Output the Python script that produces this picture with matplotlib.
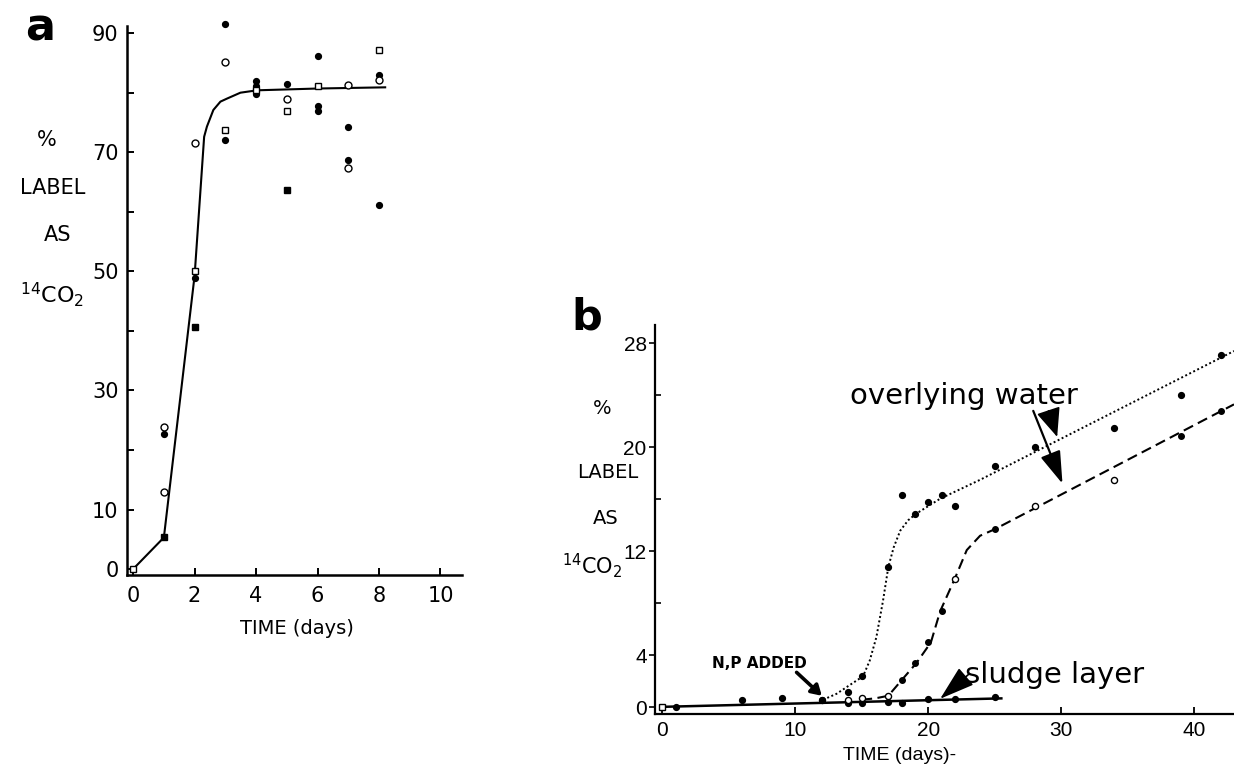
import matplotlib
matplotlib.use("Agg")
import matplotlib.pyplot as plt
from matplotlib.ticker import FixedLocator, FixedFormatter

# ---------------- data : panel a ----------------
a_curve_x = [0, 1, 2, 2.31, 2.40, 2.61, 2.84, 3.05, 3.49, 4.03, 6, 8.2]
a_curve_y = [0, 5.3, 49.3, 72.6, 74.3, 77.1, 78.5, 79.0, 80.0, 80.4, 80.7, 80.9]

a_fill_circ_x = [1, 2, 3, 3, 4, 4, 4, 5, 6, 6, 6, 7, 7, 8, 8]
a_fill_circ_y = [22.7, 48.9, 91.6, 72.0, 82.0, 81.2, 79.8, 81.5, 86.2, 77.7, 77.0, 74.3, 68.7, 82.9, 61.1]
a_fill_sq_x = [1, 2, 5]
a_fill_sq_y = [5.3, 40.6, 63.6]
a_open_circ_x = [1, 1, 2, 3, 5, 7, 7, 8]
a_open_circ_y = [23.8, 13.0, 71.5, 85.2, 79.0, 81.3, 67.3, 82.1]
a_open_sq_x = [0, 2, 3, 4, 5, 6, 8]
a_open_sq_y = [0.0, 50.0, 73.8, 80.5, 76.9, 81.1, 87.1]

a_xticks = [0, 2, 4, 6, 8, 10]
a_yticks = [0, 10, 20, 30, 40, 50, 60, 70, 80, 90]
a_ytick_labels = ["0", "10", "", "30", "", "50", "", "70", "", "90"]

# ---------------- data : panel b ----------------
# overlying water, replicate 1 (dotted)
ow1_x = [12, 14, 15, 17, 18, 19, 20, 21, 22, 25, 28, 34, 39, 42]
ow1_y = [0.6, 1.2, 2.4, 10.8, 16.3, 14.9, 15.8, 16.3, 15.5, 18.6, 20.0, 21.5, 24.0, 27.1]
ow1_curve_x = [12.1, 13.1, 15.1, 15.6, 16.1, 16.6, 17.0, 17.4, 17.9, 18.5, 19.1, 20.9, 23.9, 43.0]
ow1_curve_y = [0.6, 1.05, 2.4, 3.6, 5.4, 8.2, 10.8, 12.3, 13.6, 14.4, 14.9, 16.05, 17.5, 27.4]

# overlying water, replicate 2 (dashed)
ow2_fill_x = [18, 19, 20, 21, 25, 39, 42]
ow2_fill_y = [2.1, 3.4, 5.0, 7.4, 13.7, 20.9, 22.8]
ow2_open_x = [14, 15, 17, 22, 28, 34]
ow2_open_y = [0.6, 0.7, 0.9, 9.9, 15.5, 17.5]
ow2_curve_x = [15.0, 16.0, 17.0, 18.0, 19.1, 20.2, 20.9, 22.0, 22.9, 23.9, 25.0, 43.0]
ow2_curve_y = [0.6, 0.7, 0.9, 2.1, 3.4, 5.0, 7.4, 9.9, 12.1, 13.2, 13.7, 23.3]

# sludge layer (solid)
sl_x = [1, 6, 9, 12, 14, 15, 17, 18, 20, 22, 25]
sl_y = [0.05, 0.55, 0.7, 0.6, 0.35, 0.35, 0.45, 0.35, 0.65, 0.65, 0.8]
sl_open_x = [0]
sl_open_y = [0.0]
sl_line_x = [0, 25.5]
sl_line_y = [0.05, 0.7]

b_xticks = [0, 10, 20, 30, 40]
b_yticks_major = [0, 4, 12, 20, 28]
b_yticks_minor = [8, 16, 24]

W, H = 1234, 768
fig = plt.figure(figsize=(W / 100, H / 100), dpi=100)
NARROW = ['Liberation Sans', 'DejaVu Sans']


def fx(px):
    return px / W


def fy(py):
    return 1 - py / H


# ================= panel a =================
axA = fig.add_axes([fx(127), fy(575), 335 / W, 549 / H])
axA.set_xlim(-0.2, 10.7)
axA.set_ylim(-1.0, 91.2)
for s in ("top", "right"):
    axA.spines[s].set_visible(False)
for s in ("left", "bottom"):
    axA.spines[s].set_linewidth(1.8)

axA.plot(a_curve_x, a_curve_y, color="black", lw=1.5, zorder=2, solid_joinstyle="round")
axA.plot(a_fill_circ_x, a_fill_circ_y, "o", ms=4.2, color="black", zorder=3, clip_on=False)
axA.plot(a_fill_sq_x, a_fill_sq_y, "s", ms=4.0, color="black", zorder=3, clip_on=False)
axA.plot(a_open_circ_x, a_open_circ_y, "o", ms=5, mfc="white", mec="black", mew=1.0, zorder=3, clip_on=False)
axA.plot(a_open_sq_x, a_open_sq_y, "s", ms=4.6, mfc="white", mec="black", mew=1.0, zorder=3, clip_on=False)

axA.xaxis.set_major_locator(FixedLocator(a_xticks))
axA.yaxis.set_major_locator(FixedLocator(a_yticks))
axA.yaxis.set_major_formatter(FixedFormatter(a_ytick_labels))
axA.tick_params(axis="both", direction="in", length=5, width=1.4, labelsize=15, pad=6)
axA.tick_params(axis="x", pad=8)

fig.text(fx(40), fy(28), "a", fontsize=32, fontweight="bold", ha="center", va="center")
fig.text(fx(47), fy(140), "%", fontsize=15, ha="center", va="center")
fig.text(fx(53), fy(188), "LABEL", fontsize=15, ha="center", va="center")
fig.text(fx(58), fy(235), "AS", fontsize=15, ha="center", va="center")
fig.text(fx(52), fy(295), r"$^{14}$CO$_2$", fontsize=16, ha="center", va="center")
fig.text(fx(297), fy(628), "TIME (days)", fontsize=14, ha="center", va="center")

# ================= panel b =================
axB = fig.add_axes([fx(655), fy(714), 579 / W, 389 / H])
axB.set_xlim(-0.55, 43.0)
axB.set_ylim(-0.5, 29.4)
for s in ("top", "right"):
    axB.spines[s].set_visible(False)
for s in ("left", "bottom"):
    axB.spines[s].set_linewidth(1.6)

axB.plot(sl_line_x, sl_line_y, color="black", lw=1.8, zorder=2)
axB.plot(sl_x, sl_y, "o", ms=4.2, color="black", zorder=3)
axB.plot(sl_open_x, sl_open_y, "s", ms=4.6, mfc="white", mec="black", mew=1.0, zorder=3, clip_on=False)

axB.plot(ow1_curve_x, ow1_curve_y, color="black", lw=1.4, linestyle=(0, (1, 1.3)), zorder=2, clip_on=False)
axB.plot(ow1_x, ow1_y, "o", ms=4.2, color="black", zorder=3)

axB.plot(ow2_curve_x, ow2_curve_y, color="black", lw=1.5, linestyle=(0, (5, 2.6)), zorder=2, clip_on=False)
axB.plot(ow2_fill_x, ow2_fill_y, "o", ms=4.0, color="black", zorder=3)
axB.plot(ow2_open_x, ow2_open_y, "o", ms=4.4, mfc="white", mec="black", mew=1.0, zorder=3)

axB.xaxis.set_major_locator(FixedLocator(b_xticks))
axB.yaxis.set_major_locator(FixedLocator(b_yticks_major))
axB.yaxis.set_minor_locator(FixedLocator(b_yticks_minor))
axB.tick_params(axis="x", direction="in", length=5, width=1.3, labelsize=15, pad=5)
axB.tick_params(axis="y", which="major", direction="out", length=4, width=1.2, labelsize=15, pad=2)
axB.tick_params(axis="y", which="minor", direction="in", length=4, width=1.2)
for lab in axB.get_xticklabels() + axB.get_yticklabels():
    lab.set_family(NARROW)

# annotations
axB.text(3.76, 3.0, "N,P ADDED", fontsize=11, fontweight="bold", ha="left", va="baseline")
axB.annotate("", xy=(12.0, 0.9), xytext=(10.1, 2.7),
             arrowprops=dict(arrowstyle="-|>,head_length=0.5,head_width=0.3", mutation_scale=12,
                             lw=2.6, color="black", shrinkA=0, shrinkB=0))

axB.text(22.7, 23.3, "overlying water", fontsize=21, ha="center", va="baseline")
axB.annotate("", xy=(29.7, 20.8), xytext=(29.05, 22.8),
             arrowprops=dict(arrowstyle="-|>,head_length=0.9,head_width=0.38", mutation_scale=20,
                             lw=1.2, color="black", shrinkA=0, shrinkB=0))
axB.annotate("", xy=(30.1, 17.2), xytext=(27.9, 22.8),
             arrowprops=dict(arrowstyle="-|>,head_length=1.0,head_width=0.32", mutation_scale=20,
                             lw=1.6, color="black", shrinkA=0, shrinkB=0))

axB.text(22.8, 1.87, "sludge layer", fontsize=21, ha="left", va="baseline")
axB.annotate("", xy=(20.9, 0.67), xytext=(23.1, 2.6),
             arrowprops=dict(arrowstyle="-|>,head_length=1.1,head_width=0.35", mutation_scale=20,
                             lw=1.2, color="black", shrinkA=0, shrinkB=0))

fig.text(fx(587), fy(318), "b", fontsize=31, fontweight="bold", ha="center", va="center")
fig.text(fx(602), fy(408), "%", fontsize=14, ha="center", va="center")
fig.text(fx(608), fy(473), "LABEL", fontsize=14, ha="center", va="center")
fig.text(fx(606), fy(518), "AS", fontsize=14, ha="center", va="center")
fig.text(fx(592), fy(566), r"$^{14}$CO$_2$", fontsize=15, ha="center", va="center")
fig.text(fx(900), fy(755), "TIME (days)-", fontsize=14, ha="center", va="center", family=NARROW)

fig.savefig("out.png", dpi=100)
